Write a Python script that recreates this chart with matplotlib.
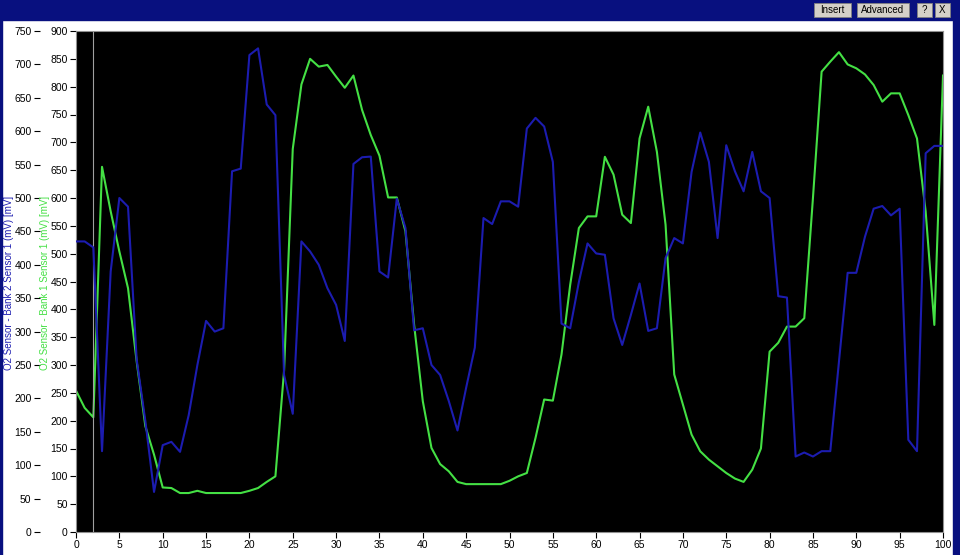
import matplotlib
matplotlib.use("Agg")
import matplotlib.pyplot as plt
from matplotlib.patches import Rectangle

# ---------------- data ----------------
samples = list(range(0, 101))

# O2 Sensor - Bank 2 Sensor 1 (blue, outer axis 0-750)
bank2_mv = [435, 435, 426, 121, 390, 500, 487, 258, 166, 60,
            130, 135, 120, 175, 250, 316, 300, 305, 540, 544,
            714, 724, 640, 624, 235, 177, 435, 420, 400, 365,
            340, 286, 551, 561, 562, 390, 381, 499, 455, 302,
            305, 250, 235, 196, 152, 216, 276, 470, 461, 495,
            495, 487, 604, 620, 607, 554, 312, 305, 374, 432,
            417, 415, 320, 280, 325, 372, 301, 305, 410, 440,
            432, 539, 598, 554, 440, 579, 540, 510, 569, 510,
            500, 353, 351, 113, 119, 113, 121, 121, 255, 388,
            388, 442, 484, 488, 474, 484, 138, 121, 567, 578,
            578]

# O2 Sensor - Bank 1 Sensor 1 (green, inner axis 0-900)
bank1_mv = [254, 223, 206, 656, 576, 504, 438, 306, 190, 139,
            80, 79, 70, 70, 74, 70, 70, 70, 70, 70,
            74, 79, 90, 100, 290, 688, 804, 850, 836, 839,
            818, 798, 820, 758, 713, 676, 601, 601, 540, 372,
            235, 151, 122, 109, 90, 86, 86, 86, 86, 86,
            92, 100, 106, 169, 238, 236, 319, 444, 546, 567,
            567, 674, 642, 570, 555, 707, 764, 683, 552, 283,
            229, 175, 145, 130, 118, 106, 96, 90, 112, 150,
            324, 340, 369, 369, 384, 600, 827, 845, 862, 840,
            833, 822, 803, 773, 788, 788, 749, 707, 576, 372,
            820]

cursor_x = 2
x_ticks = list(range(0, 101, 5))
bank1_ticks = list(range(0, 901, 50))
bank2_ticks = list(range(0, 751, 50))

label_bank2 = "O2 Sensor - Bank 2 Sensor 1 (mV) [mV]"
label_bank1 = "O2 Sensor - Bank 1 Sensor 1 (mV) [mV]"
buttons = ["Insert", "Advanced", "?", "X"]

BLUE = "#1c1cb0"
GREEN = "#44e044"
NAVY = "#08107f"
W, H = 960.0, 555.0

plt.rcParams['font.family'] = ['Liberation Sans', 'DejaVu Sans']

fig = plt.figure(figsize=(9.6, 5.55), dpi=100)
fig.patch.set_facecolor("white")

# window chrome: title bar + side borders
fig.patches.append(Rectangle((0, 1 - 20 / H), 1, 20 / H, transform=fig.transFigure,
                             color=NAVY, zorder=0))
fig.patches.append(Rectangle((0, 0), 2 / W, 1, transform=fig.transFigure, color=NAVY, zorder=0))
fig.patches.append(Rectangle((953 / W, 0), 7 / W, 1, transform=fig.transFigure, color=NAVY, zorder=0))

# buttons in the title bar (left, right in pixels)
btn_pos = [(814, 851), (857, 909), (917, 932), (935, 950)]
for name, (x0, x1) in zip(buttons, btn_pos):
    fig.patches.append(Rectangle((x0 / W, 1 - 17 / H), (x1 - x0) / W, 14 / H,
                                 transform=fig.transFigure, facecolor="#d4d0c8",
                                 edgecolor="#808080", lw=0.6, zorder=1))
    fig.text((x0 + x1) / 2 / W, 1 - 10 / H, name, ha="center", va="center",
             fontsize=7, color="black")

# ---------------- plot area ----------------
ax = fig.add_axes([76 / W, (555 - 532) / H, (943 - 76) / W, (532 - 31) / H])
ax.set_facecolor("black")
ax.plot(samples, bank1_mv, color=GREEN, lw=1.5)
ax.axvline(cursor_x, color="#a0a0a0", lw=0.8)
ax.set_xlim(0, 100)
ax.set_ylim(0, 900)
ax.set_xticks(x_ticks)
ax.set_yticks(bank1_ticks)
ax.tick_params(axis="both", direction="out", length=4.5, width=0.8,
               labelsize=7.5, pad=1.5)
for s in ax.spines.values():
    s.set_color("#909090")
    s.set_linewidth(0.8)

# second (outer) axis for bank 2
ax2 = ax.twinx()
ax2.plot(samples, bank2_mv, color=BLUE, lw=1.5)
ax2.set_ylim(0, 750)
ax2.set_yticks(bank2_ticks)
ax2.yaxis.set_ticks_position("left")
ax2.yaxis.set_label_position("left")
ax2.spines["left"].set_position(("outward", 26))
for s in ax2.spines.values():
    s.set_visible(False)
ax2.tick_params(axis="y", direction="out", length=4.5, width=0.8,
                labelsize=7.5, pad=1.5)

# axis titles
fig.text(9 / W, 1 - 283 / H, label_bank2, rotation=90, ha="center", va="center",
         fontsize=7, color=BLUE)
fig.text(45 / W, 1 - 283 / H, label_bank1, rotation=90, ha="center", va="center",
         fontsize=7, color=GREEN)

fig.savefig("out.png", dpi=100)
